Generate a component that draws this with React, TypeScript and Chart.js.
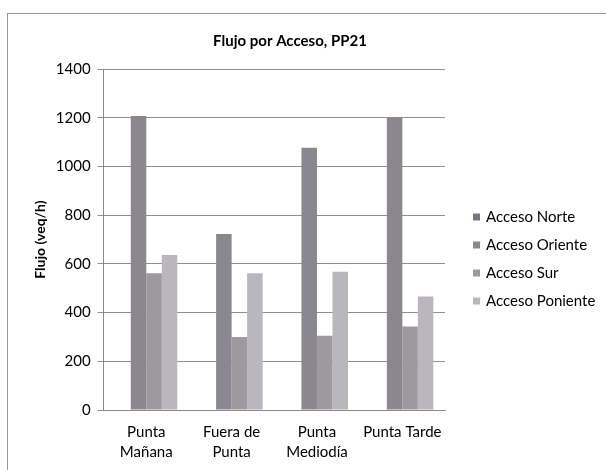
import React, { useEffect, useRef } from "react";
import { Chart, registerables } from "chart.js";

Chart.register(...registerables);

const chartTitle = "Flujo por Acceso, PP21";
const yAxisTitle = "Flujo (veq/h)";
const categories: (string | string[])[] = [
  ["Punta", "Mañana"],
  ["Fuera de", "Punta"],
  ["Punta", "Mediodía"],
  "Punta Tarde",
];
const seriesNames = ["Acceso Norte", "Acceso Oriente", "Acceso Sur", "Acceso Poniente"];
const accesoNorte = [0, 0, 0, 0];
const accesoOriente = [1207, 723, 1077, 1202];
const accesoSur = [562, 300, 305, 343];
const accesoPoniente = [637, 562, 568, 466];
const seriesColors = ["#78737e", "#8b8791", "#9c999f", "#b9b6bd"];
const yTicks = [0, 200, 400, 600, 800, 1000, 1200, 1400];

const FONT = "Lato, 'Open Sans', sans-serif";

const sideLegend = {
  id: "sideLegend",
  afterDraw(chart: any) {
    const { ctx, chartArea } = chart;
    const ds = chart.data.datasets;
    const x0 = chartArea.right + 28;
    const y0 = chartArea.top + 148;
    const step = 28;
    ctx.save();
    ctx.font = `15px ${FONT}`;
    ctx.textBaseline = "middle";
    ctx.textAlign = "left";
    ds.forEach((d: any, i: number) => {
      const y = y0 + i * step;
      ctx.fillStyle = d.backgroundColor;
      ctx.fillRect(x0, y - 3.5, 7, 7);
      ctx.fillStyle = "#000";
      ctx.fillText(d.label, x0 + 13, y);
    });
    ctx.restore();
  },
};

export default function App() {
  const ref = useRef<HTMLCanvasElement | null>(null);
  useEffect(() => {
    if (!ref.current) return;
    const values = [accesoNorte, accesoOriente, accesoSur, accesoPoniente];
    const chart = new Chart(ref.current, {
      type: "bar",
      data: {
        labels: categories,
        datasets: seriesNames.map((name, i) => ({
          label: name,
          data: values[i],
          backgroundColor: seriesColors[i],
          borderWidth: 0,
          categoryPercentage: 0.727,
          barPercentage: 1.0,
          yAxisID: "y",
        })),
      },
      plugins: [sideLegend],
      options: {
        animation: false,
        responsive: false,
        maintainAspectRatio: false,
        layout: { padding: { left: 32, right: 58, top: 0, bottom: -4 } },
        plugins: {
          title: {
            display: true,
            text: chartTitle,
            color: "#000",
            font: { family: FONT, size: 15, weight: "bold" },
            padding: { top: 32, bottom: 19 },
          },
          legend: { display: false },
          tooltip: { enabled: false },
        },
        scales: {
          x: {
            grid: { display: false, drawTicks: false },
            border: { display: true, color: "#8a8a8a", width: 1 },
            ticks: {
              color: "#000",
              font: { family: FONT, size: 15, lineHeight: 1.33 },
              maxRotation: 0,
              autoSkip: false,
              padding: 12,
            },
          },
          y: {
            min: 0,
            max: 1400,
            afterBuildTicks: (axis: any) => {
              axis.ticks = yTicks.map((v) => ({ value: v }));
            },
            grid: { color: "#8f8f8f", lineWidth: 1, tickLength: 6 },
            border: { display: true, color: "#8a8a8a", width: 1 },
            ticks: {
              color: "#000",
              font: { family: FONT, size: 15 },
              padding: 7,
              callback: (v: any) => String(v),
            },
            title: {
              display: true,
              text: yAxisTitle,
              color: "#000",
              font: { family: FONT, size: 14, weight: "bold" },
              padding: { top: 0, bottom: 0 },
            },
          },
          legendSpace: {
            type: "linear",
            position: "right",
            display: true,
            grid: { display: false, drawTicks: false },
            border: { display: false },
            ticks: { display: false },
            afterFit: (s: any) => {
              s.width = 103;
            },
          },
        },
      },
    });
    return () => chart.destroy();
  }, []);

  return (
    <div style={{ position: "fixed", left: 0, top: 0, width: 606, height: 470, background: "#fff" }}>
      <div
        style={{
          position: "absolute",
          left: 7,
          top: 13,
          width: 606,
          height: 470,
          borderLeft: "1px solid #9a9a9a",
          borderTop: "1px solid #9a9a9a",
        }}
      />
      <canvas
        ref={ref}
        width={606}
        height={470}
        style={{ position: "absolute", left: 0, top: 0, width: 606, height: 470 }}
      />
    </div>
  );
}
